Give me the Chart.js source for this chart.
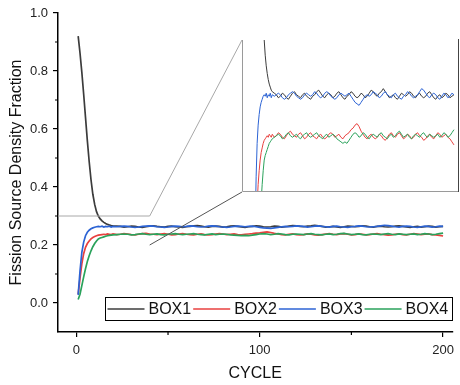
<!DOCTYPE html>
<html>
<head>
<meta charset="utf-8">
<script src="https://cdn.jsdelivr.net/npm/chart.js@4.4.1/dist/chart.umd.min.js"></script>
<style>
  html, body { margin: 0; padding: 0; background: #fff; }
  #wrap { position: relative; width: 460px; height: 385px; }
  #inset { position: absolute; left: 241px; top: 39px; }
</style>
</head>
<body>
<div id="wrap">
  <canvas id="main" width="460" height="385"></canvas>
  <canvas id="inset" width="219" height="154"></canvas>
</div>
<script>
// cycle numbers (every cycle at the start, every 2nd after that)
const cycles = [1,2,3,4,5,6,7,8,9,10,11,12,13,14,15,16,17,18,19,20,
  22,24,26,28,30,32,34,36,38,40,42,44,46,48,50,52,54,56,58,60,
  62,64,66,68,70,72,74,76,78,80,82,84,86,88,90,92,94,96,98,100,
  102,104,106,108,110,112,114,116,118,120,122,124,126,128,130,132,134,136,138,140,
  142,144,146,148,150,152,154,156,158,160,162,164,166,168,170,172,174,176,178,180,
  182,184,186,188,190,192,194,196,198,200];

const box1 = [0.920,0.862,0.795,0.720,0.640,0.560,0.488,0.425,0.375,0.340,0.315,0.300,0.290,0.283,0.278,0.274,0.271,0.269,0.267,0.266,
  0.265,0.264,0.262,0.263,0.265,0.264,0.262,0.261,0.263,0.265,
  0.266,0.264,0.263,0.262,0.264,0.265,0.263,0.262,0.261,0.263,
  0.264,0.266,0.267,0.265,0.263,0.262,0.264,0.265,0.264,0.262,
  0.263,0.265,0.266,0.264,0.262,0.261,0.263,0.264,0.266,0.265,
  0.263,0.262,0.263,0.265,0.264,0.262,0.263,0.265,0.267,0.266,
  0.264,0.263,0.265,0.266,0.268,0.266,0.264,0.262,0.263,0.264,
  0.262,0.261,0.263,0.265,0.264,0.263,0.264,0.266,0.265,0.263,
  0.262,0.264,0.265,0.263,0.262,0.263,0.265,0.266,0.264,0.262,
  0.261,0.263,0.264,0.262,0.263,0.265,0.264,0.262,0.263,0.264];

const box2 = [0.030,0.085,0.135,0.170,0.192,0.205,0.214,0.221,0.226,0.229,0.232,0.234,0.235,0.236,0.237,0.236,0.238,0.237,0.236,0.238,
  0.236,0.237,0.239,0.238,0.236,0.235,0.237,0.239,0.240,0.238,
  0.237,0.236,0.238,0.239,0.237,0.235,0.236,0.238,0.239,0.237,
  0.236,0.235,0.237,0.238,0.236,0.235,0.236,0.238,0.239,0.238,
  0.236,0.237,0.238,0.236,0.235,0.237,0.238,0.239,0.241,0.242,
  0.244,0.245,0.243,0.240,0.238,0.236,0.235,0.237,0.238,0.236,
  0.235,0.236,0.238,0.237,0.235,0.234,0.236,0.238,0.239,0.237,
  0.236,0.238,0.239,0.237,0.235,0.236,0.238,0.237,0.235,0.236,
  0.238,0.239,0.237,0.236,0.234,0.235,0.237,0.238,0.236,0.235,
  0.237,0.239,0.238,0.236,0.237,0.238,0.236,0.235,0.233,0.231];

const box3 = [0.028,0.110,0.175,0.210,0.232,0.244,0.251,0.256,0.259,0.261,0.263,0.264,0.263,0.265,0.262,0.264,0.263,0.265,0.262,0.264,
  0.263,0.264,0.265,0.264,0.262,0.261,0.262,0.264,0.265,0.266,
  0.265,0.263,0.262,0.261,0.262,0.264,0.265,0.264,0.263,0.264,
  0.266,0.265,0.263,0.262,0.263,0.265,0.266,0.265,0.263,0.262,
  0.261,0.262,0.264,0.265,0.264,0.263,0.264,0.265,0.263,0.261,
  0.259,0.258,0.257,0.259,0.261,0.263,0.264,0.263,0.264,0.266,
  0.265,0.264,0.262,0.263,0.265,0.266,0.264,0.263,0.262,0.264,
  0.265,0.263,0.262,0.261,0.263,0.264,0.266,0.265,0.263,0.262,
  0.263,0.264,0.266,0.268,0.267,0.265,0.263,0.262,0.264,0.265,
  0.264,0.262,0.261,0.263,0.265,0.264,0.262,0.263,0.265,0.264];

const box4 = [0.012,0.030,0.060,0.090,0.118,0.143,0.163,0.180,0.194,0.205,0.214,0.221,0.224,0.226,0.228,0.230,0.232,0.233,0.234,0.235,
  0.236,0.237,0.238,0.237,0.235,0.236,0.238,0.239,0.237,0.236,
  0.237,0.238,0.236,0.235,0.237,0.238,0.239,0.237,0.236,0.237,
  0.238,0.239,0.237,0.236,0.235,0.237,0.238,0.236,0.237,0.238,
  0.237,0.235,0.234,0.233,0.232,0.233,0.232,0.234,0.236,0.238,
  0.239,0.238,0.236,0.237,0.239,0.238,0.236,0.235,0.237,0.238,
  0.237,0.236,0.238,0.239,0.237,0.236,0.235,0.237,0.238,0.236,
  0.237,0.239,0.240,0.238,0.236,0.237,0.238,0.236,0.235,0.237,
  0.238,0.237,0.236,0.238,0.239,0.237,0.236,0.238,0.237,0.236,
  0.237,0.238,0.236,0.237,0.239,0.238,0.236,0.237,0.239,0.241];

const seriesNames = ['BOX1', 'BOX2', 'BOX3', 'BOX4'];
const seriesValues = [box1, box2, box3, box4];
const seriesColors = ['#3c3c3c', '#e8413f', '#2c63d4', '#2aa25b'];

const xTicks = [0, 100, 200];
const xMinorTicks = [50, 150];
const yTicks = [0, 0.2, 0.4, 0.6, 0.8, 1.0];
const yMinorTicks = [0.1, 0.3, 0.5, 0.7, 0.9];
const zoomBox = { xMin: -10, xMax: 40, yMin: 0.2, yMax: 0.3 };

Chart.defaults.font.family = '"Liberation Sans", Arial, sans-serif';
Chart.defaults.color = '#222';

function makeDatasets(width) {
  return seriesNames.map((name, i) => ({
    label: name,
    data: cycles.map((c, j) => ({ x: c, y: seriesValues[i][j] })),
    borderColor: seriesColors[i],
    borderWidth: width,
    pointRadius: 0,
    tension: 0,
    order: seriesNames.length - i
  }));
}

// inset: same data, zoomed y range
const insetBorder = {
  id: 'insetBorder',
  afterDraw(chart) {
    const { ctx, chartArea: a } = chart;
    ctx.save();
    ctx.lineWidth = 1;
    ctx.strokeStyle = '#9a9a9a';
    ctx.beginPath();
    ctx.moveTo(a.left + 0.5, a.top);
    ctx.lineTo(a.left + 0.5, a.bottom - 0.5);
    ctx.lineTo(a.right, a.bottom - 0.5);
    ctx.stroke();
    ctx.strokeStyle = '#444';
    ctx.beginPath();
    ctx.moveTo(a.right - 0.5, a.top - 4);
    ctx.lineTo(a.right - 0.5, a.bottom);
    ctx.stroke();
    ctx.restore();
  }
};

const insetChart = new Chart(document.getElementById('inset'), {
  type: 'line',
  data: { datasets: makeDatasets(1) },
  options: {
    responsive: false,
    animation: false,
    layout: { padding: 1 },
    plugins: { legend: { display: false }, tooltip: { enabled: false } },
    scales: {
      x: { type: 'linear', display: false, min: -10, max: 205 },
      y: { display: false, min: zoomBox.yMin, max: zoomBox.yMax }
    }
  },
  plugins: [insetBorder]
});

const minorTicks = {
  id: 'minorTicks',
  afterDraw(chart) {
    const { ctx, chartArea: a, scales: { x, y } } = chart;
    ctx.save();
    ctx.strokeStyle = '#000';
    ctx.lineWidth = 1.2;
    ctx.beginPath();
    xMinorTicks.forEach(v => {
      const px = x.getPixelForValue(v);
      ctx.moveTo(px, a.bottom);
      ctx.lineTo(px, a.bottom + 3);
    });
    yMinorTicks.forEach(v => {
      const py = y.getPixelForValue(v);
      ctx.moveTo(a.left, py);
      ctx.lineTo(a.left - 3, py);
    });
    ctx.stroke();
    ctx.restore();
  }
};

const zoomLines = {
  id: 'zoomLines',
  afterDatasetsDraw(chart) {
    const { ctx, chartArea: a, scales: { x, y } } = chart;
    const cv = insetChart.canvas;
    const ia = insetChart.chartArea;
    const insetLeft = cv.offsetLeft + ia.left;
    const insetTop = cv.offsetTop + ia.top;
    const insetBottom = cv.offsetTop + ia.bottom;
    const zx = x.getPixelForValue(zoomBox.xMax);
    const zTop = y.getPixelForValue(zoomBox.yMax);
    const zBottom = y.getPixelForValue(zoomBox.yMin);
    ctx.save();
    ctx.lineWidth = 1;
    ctx.strokeStyle = '#a8a8a8';
    ctx.beginPath();
    ctx.moveTo(a.left, zTop);
    ctx.lineTo(zx, zTop);
    ctx.lineTo(insetLeft, insetTop);
    ctx.stroke();
    ctx.strokeStyle = '#555';
    ctx.beginPath();
    ctx.moveTo(zx, zBottom);
    ctx.lineTo(insetLeft, insetBottom);
    ctx.stroke();
    ctx.restore();
  }
};

const boxLegend = {
  id: 'boxLegend',
  afterDraw(chart) {
    const { ctx, chartArea: a } = chart;
    const sets = chart.data.datasets;
    ctx.save();
    ctx.font = '16px "Liberation Sans", Arial, sans-serif';
    const lineLen = 37, gap = 4, entryGap = 2, pad = 3, h = 23;
    let w = pad * 2 + entryGap * (sets.length - 1);
    sets.forEach(d => { w += lineLen + gap + ctx.measureText(d.label).width; });
    const bx = a.right - 1 - w;
    const by = a.bottom - 35;
    ctx.fillStyle = '#fff';
    ctx.fillRect(bx, by, w, h);
    ctx.strokeStyle = '#000';
    ctx.lineWidth = 1;
    ctx.strokeRect(Math.round(bx) + 0.5, by + 0.5, Math.round(w), h);
    let cx = bx + pad;
    const cy = by + h / 2 + 0.5;
    sets.forEach(d => {
      ctx.strokeStyle = d.borderColor;
      ctx.lineWidth = 1.5;
      ctx.beginPath();
      ctx.moveTo(cx, cy);
      ctx.lineTo(cx + lineLen, cy);
      ctx.stroke();
      cx += lineLen + gap;
      ctx.fillStyle = '#111';
      ctx.textBaseline = 'middle';
      ctx.fillText(d.label, cx, cy + 1);
      cx += ctx.measureText(d.label).width + entryGap;
    });
    ctx.restore();
  }
};

new Chart(document.getElementById('main'), {
  type: 'line',
  data: { datasets: makeDatasets(1.7) },
  options: {
    responsive: false,
    animation: false,
    layout: { padding: { top: 13, right: 3, left: 0, bottom: 0 } },
    plugins: { legend: { display: false }, tooltip: { enabled: false } },
    scales: {
      x: {
        type: 'linear',
        min: -10,
        max: 205,
        afterBuildTicks: s => { s.ticks = xTicks.map(v => ({ value: v })); },
        afterFit: s => { s.height = 53; },
        ticks: { font: { size: 13 }, padding: 6, maxRotation: 0 },
        grid: { drawOnChartArea: false, drawTicks: true, tickLength: 5, color: '#000', lineWidth: 1.2 },
        border: { color: '#000', width: 1.5 },
        title: { display: true, text: 'CYCLE', font: { size: 16 }, color: '#111', padding: { top: 0, bottom: 2 } }
      },
      y: {
        min: -0.1,
        max: 1.0,
        afterBuildTicks: s => { s.ticks = yTicks.map(v => ({ value: v })); },
        afterFit: s => { s.width = 58; },
        ticks: { font: { size: 13 }, padding: 5, callback: v => v.toFixed(1) },
        grid: { drawOnChartArea: false, drawTicks: true, tickLength: 5, color: '#000', lineWidth: 1.2 },
        border: { color: '#000', width: 1.5 },
        title: { display: true, text: 'Fission Source Density Fraction', font: { size: 16 }, color: '#111', padding: { top: 7, bottom: 0 } }
      }
    }
  },
  plugins: [minorTicks, zoomLines, boxLegend]
});
</script>
</body>
</html>
